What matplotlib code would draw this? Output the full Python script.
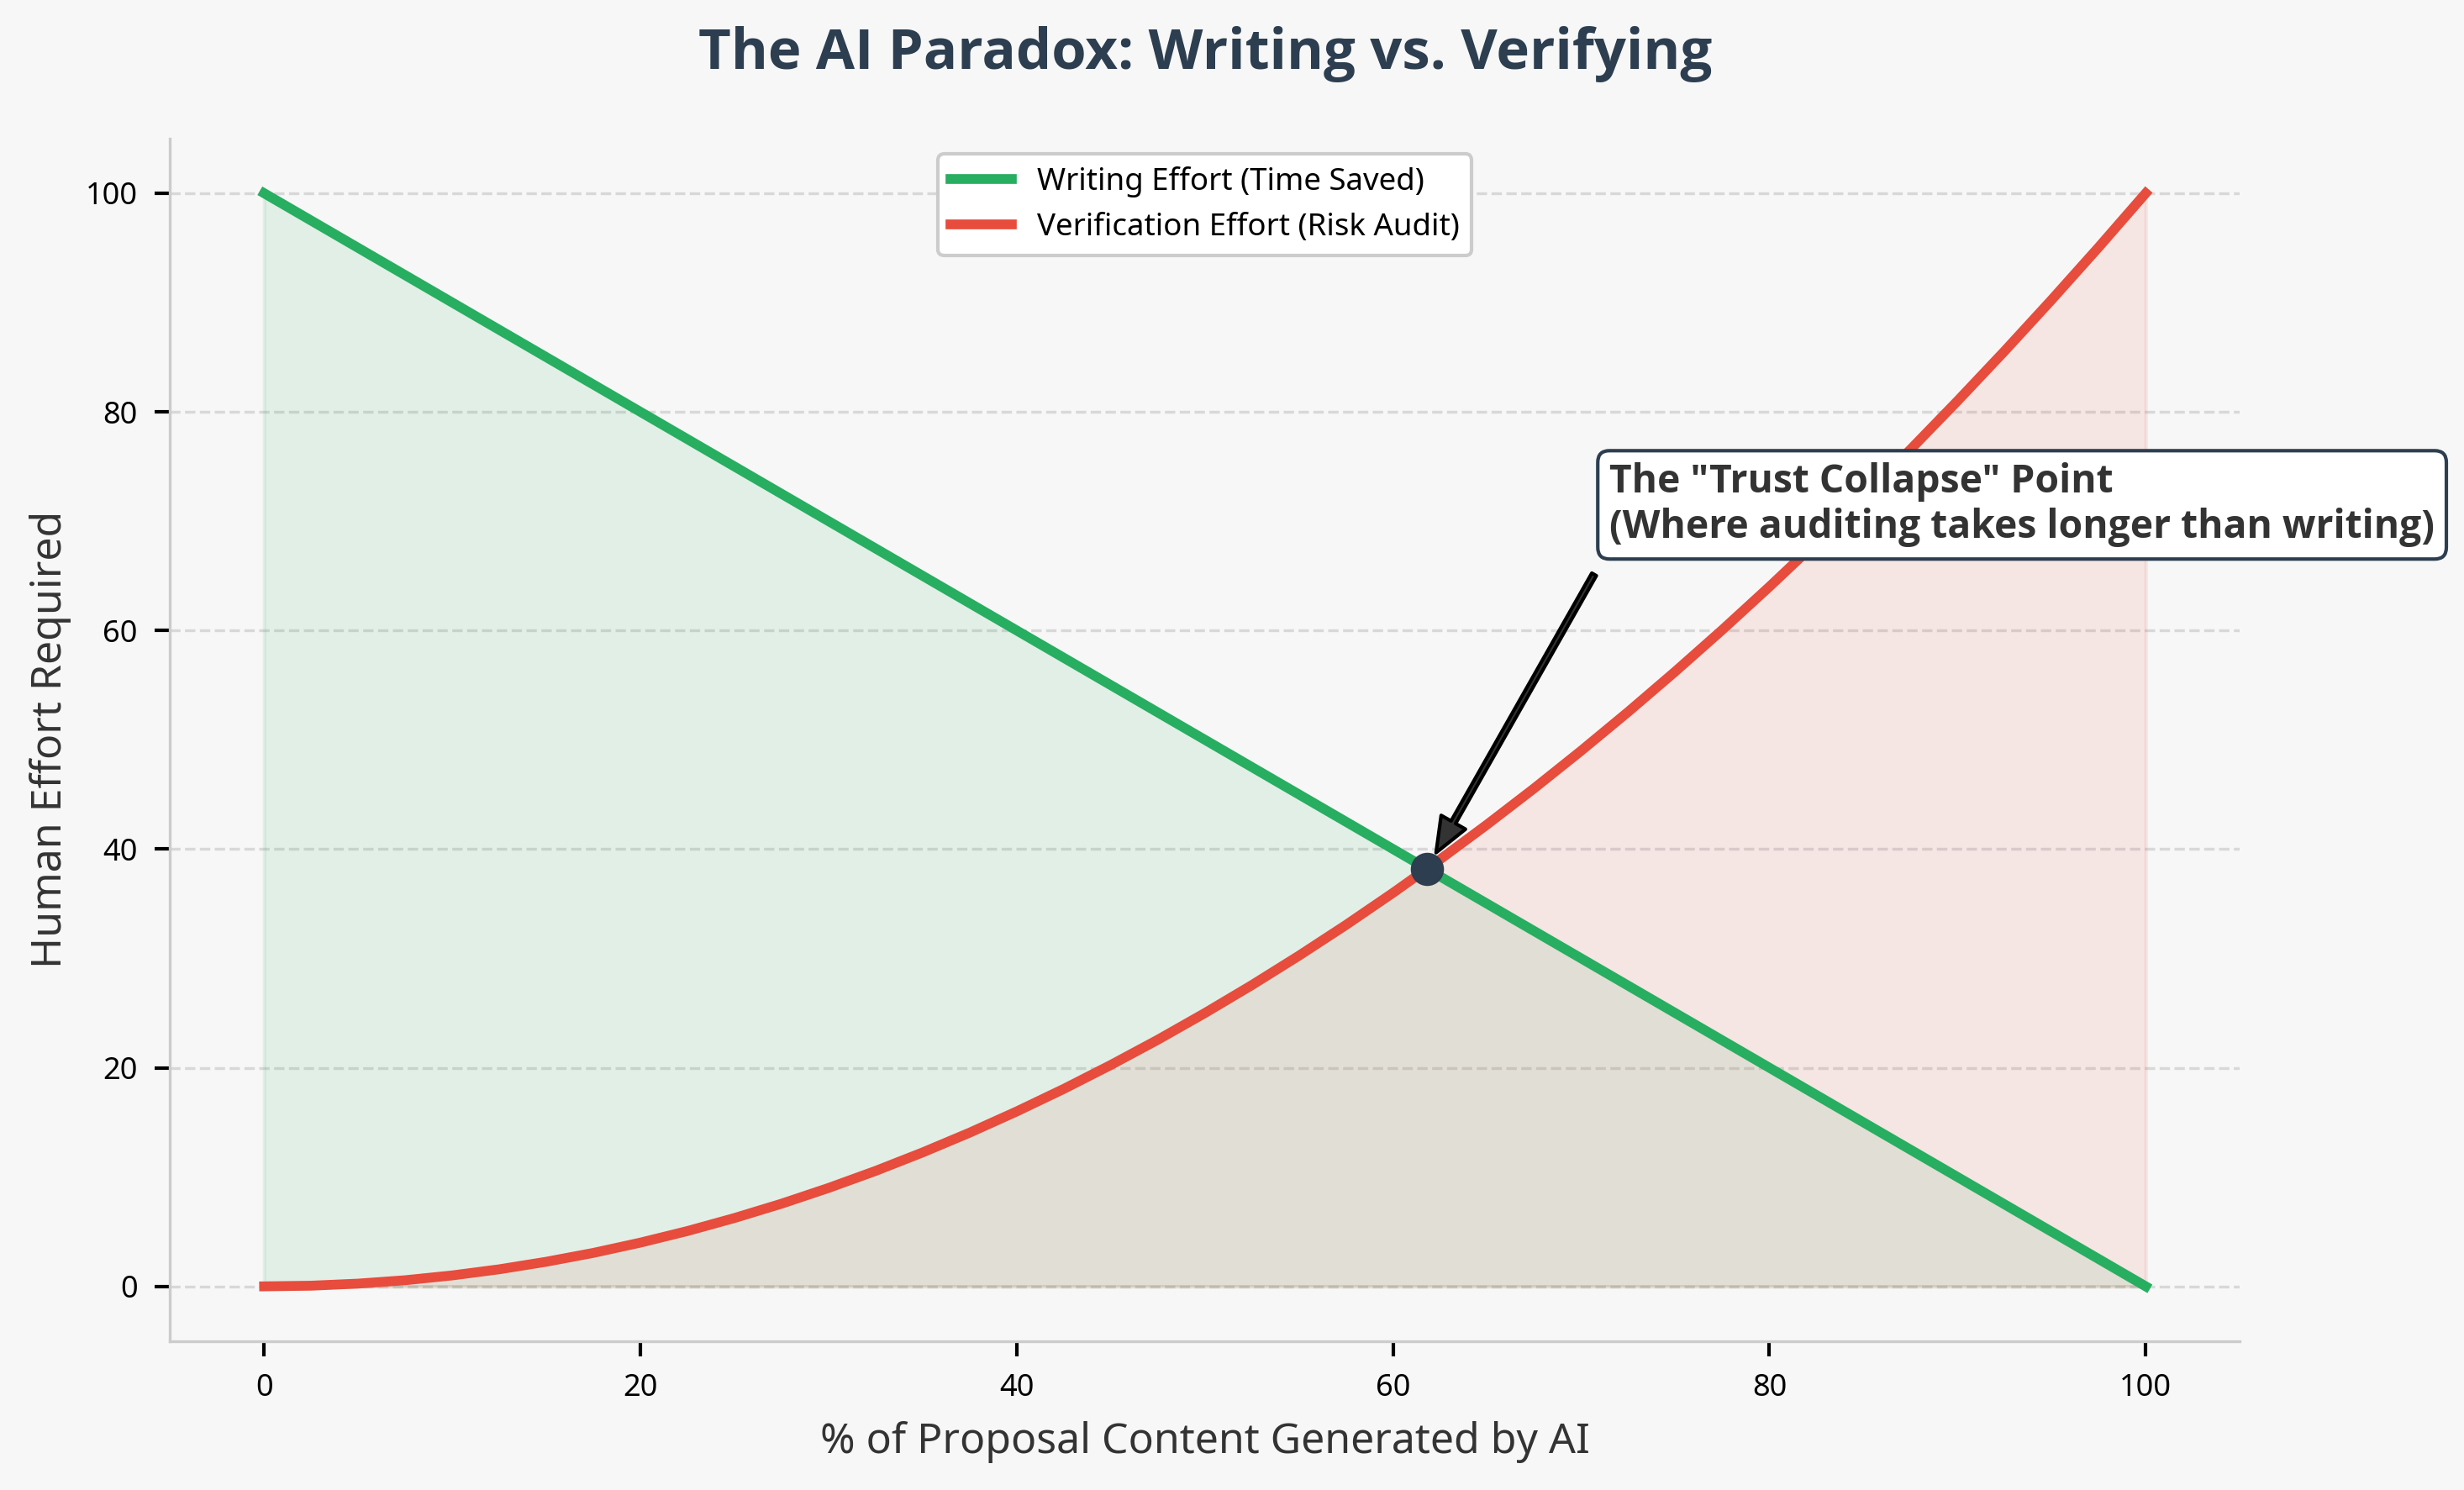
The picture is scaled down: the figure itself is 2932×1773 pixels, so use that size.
import matplotlib.pyplot as plt
from matplotlib import font_manager

plt.rcParams['font.family'] = ['Noto Sans', 'DejaVu Sans']

# values
ai_share = [0, 2.5, 5, 7.5, 10, 12.5, 15, 17.5, 20, 22.5, 25, 27.5, 30, 32.5,
            35, 37.5, 40, 42.5, 45, 47.5, 50, 52.5, 55, 57.5, 60, 62.5, 65,
            67.5, 70, 72.5, 75, 77.5, 80, 82.5, 85, 87.5, 90, 92.5, 95, 97.5, 100]
writing_effort = [100, 97.5, 95, 92.5, 90, 87.5, 85, 82.5, 80, 77.5, 75, 72.5,
                  70, 67.5, 65, 62.5, 60, 57.5, 55, 52.5, 50, 47.5, 45, 42.5,
                  40, 37.5, 35, 32.5, 30, 27.5, 25, 22.5, 20, 17.5, 15, 12.5,
                  10, 7.5, 5, 2.5, 0]
verify_effort = [0, 0.06, 0.25, 0.56, 1, 1.56, 2.25, 3.06, 4, 5.06, 6.25, 7.56,
                 9, 10.56, 12.25, 14.06, 16, 18.06, 20.25, 22.56, 25, 27.56,
                 30.25, 33.06, 36, 39.06, 42.25, 45.56, 49, 52.56, 56.25, 60.06,
                 64, 68.06, 72.25, 76.56, 81, 85.56, 90.25, 95.06, 100]
cross_x = 61.8
cross_y = 38.2

green = '#27ae60'
red = '#e74c3c'
navy = '#2c3e50'

names = {f.name for f in font_manager.fontManager.ttflist if f.weight in (700, 'bold')}
bold_family = ['Noto Sans'] if 'Noto Sans' in names else ['Open Sans', 'DejaVu Sans']

fig = plt.figure(figsize=(2932 / 300, 1773 / 300), dpi=300)
fig.patch.set_facecolor('#f7f7f7')
ax = fig.add_axes([0.069, 0.100, 0.840, 0.807])
ax.set_facecolor('#f7f7f7')

ax.plot(ai_share, writing_effort, color=green, lw=2.8, label='Writing Effort (Time Saved)')
ax.plot(ai_share, verify_effort, color=red, lw=2.8, label='Verification Effort (Risk Audit)')
ax.fill_between(ai_share, writing_effort, color=green, alpha=0.1)
ax.fill_between(ai_share, verify_effort, color=red, alpha=0.1)

ax.scatter([cross_x], [cross_y], s=72, color=navy, zorder=5)
ax.annotate('The "Trust Collapse" Point\n(Where auditing takes longer than writing)',
            xy=(cross_x, cross_y), xytext=(71.5, 67.6),
            ha='left', va='bottom', fontsize=11.1, fontweight='bold', color='#333333',
            family=bold_family,
            bbox=dict(boxstyle='round,pad=0.3', fc='white', ec=navy, lw=1),
            arrowprops=dict(facecolor='#333333', edgecolor='black', shrink=0.05,
                            width=1.5, headwidth=8, headlength=10))

ax.set_title('The AI Paradox: Writing vs. Verifying', fontsize=16.1, fontweight='bold',
             color=navy, pad=20, family=bold_family)
ax.set_xlabel('% of Proposal Content Generated by AI', fontsize=12, color='#333333', labelpad=5)
ax.set_ylabel('Human Effort Required', fontsize=12, color='#333333', labelpad=4)
ax.tick_params(labelsize=8.7, length=4.3, width=1, pad=5)

ax.grid(axis='y', linestyle='--', color='#cccccc', alpha=0.7)
ax.set_axisbelow(True)
for side in ['top', 'right']:
    ax.spines[side].set_visible(False)
for side in ['left', 'bottom']:
    ax.spines[side].set_color('#cccccc')

ax.legend(loc='upper center', fontsize=8.8, facecolor='white', edgecolor='#cccccc', framealpha=1)

fig.savefig('out.png', dpi=300, facecolor=fig.get_facecolor())
